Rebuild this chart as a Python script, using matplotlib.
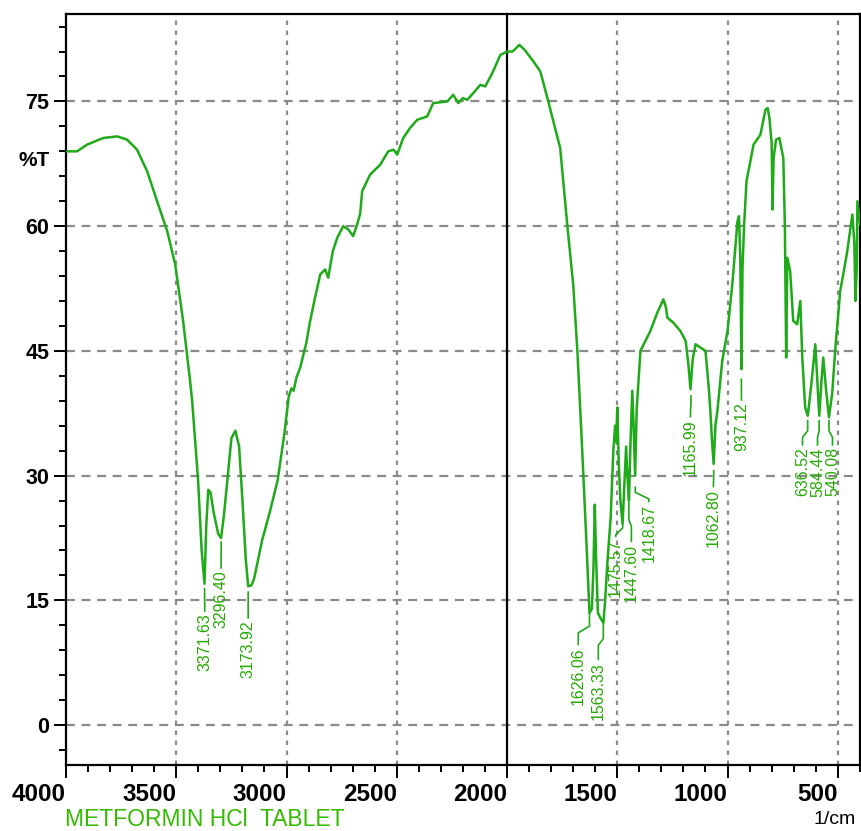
import matplotlib
matplotlib.use('Agg')
import matplotlib.pyplot as plt
from matplotlib.ticker import MultipleLocator

plt.rcParams['font.family'] = ['Liberation Sans', 'DejaVu Sans']

# spectrum (wavenumber in 1/cm, transmittance %T)
wn = [4000, 3950, 3905, 3832, 3768, 3723, 3678, 3632, 3587, 3541, 3505, 3469, 3440, 3428,
      3401, 3385, 3372, 3364, 3355, 3345, 3330, 3310, 3297, 3285, 3270, 3250, 3232, 3215,
      3200, 3185, 3174, 3160, 3147, 3111, 3074, 3040, 3010, 2990, 2978, 2968, 2955, 2938,
      2910, 2893, 2870, 2847, 2825, 2811, 2790, 2770, 2743, 2720, 2698, 2680, 2666, 2657,
      2621, 2575, 2539, 2515, 2498, 2471, 2440, 2407, 2362, 2335, 2271, 2244, 2221, 2200,
      2180, 2140, 2121, 2099, 2067, 2030, 2000, 1975, 1944, 1920, 1880, 1849, 1813, 1790,
      1759, 1727, 1700, 1681, 1659, 1640, 1626, 1615, 1608, 1602, 1596, 1588, 1575, 1563,
      1555, 1545, 1530, 1518, 1510, 1505, 1500, 1494, 1486, 1476, 1466, 1460, 1454, 1447,
      1440, 1432, 1426, 1419, 1412, 1395, 1350, 1320, 1291, 1280, 1273, 1246, 1214, 1190,
      1178, 1168, 1158, 1145, 1123, 1100, 1085, 1078, 1070, 1063, 1055, 1046, 1024, 1000,
      977, 955, 948, 942, 937, 932, 925, 914, 882, 851, 828, 818, 810, 800, 796, 791, 780,
      765, 747, 740, 734, 729, 716, 702, 684, 670, 661, 648, 636, 620, 602, 592, 584, 575,
      566, 552, 540, 525, 512, 489, 470, 457, 434, 425, 420, 414, 411, 398]
tr = [69.0, 69.0, 69.8, 70.6, 70.8, 70.4, 69.2, 66.6, 63.0, 59.4, 55.4, 48.6, 42.0, 39.0,
      29.4, 21.0, 17.0, 24.0, 28.3, 28.0, 25.5, 23.0, 22.5, 25.0, 29.0, 34.5, 35.4, 33.5,
      27.0, 20.0, 16.7, 16.8, 17.6, 22.2, 25.8, 29.5, 35.0, 39.5, 40.5, 40.2, 41.8, 43.0,
      46.0, 48.6, 51.5, 54.2, 54.8, 53.8, 57.0, 58.6, 60.0, 59.6, 58.8, 60.2, 61.5, 64.2,
      66.2, 67.4, 69.0, 69.2, 68.6, 70.6, 71.8, 72.8, 73.2, 74.8, 75.0, 75.8, 74.8, 75.4,
      75.2, 76.4, 77.0, 76.8, 78.4, 80.6, 81.0, 81.0, 81.8, 81.2, 79.8, 78.6, 75.0, 72.6,
      69.4, 60.2, 53.0, 45.0, 33.0, 22.0, 13.5, 14.0, 19.0, 26.5, 20.0, 13.5, 12.8, 12.3,
      15.0, 19.5, 25.0, 33.0, 36.0, 34.0, 38.2, 32.0, 27.0, 24.2, 30.0, 33.5, 30.0, 27.0,
      34.0, 40.2, 36.0, 30.0, 38.0, 45.0, 47.4, 49.5, 51.2, 50.3, 49.0, 48.4, 47.4, 46.2,
      43.5, 40.4, 44.0, 45.8, 45.4, 45.0, 40.5, 37.8, 34.0, 31.4, 36.0, 37.8, 43.8, 47.4,
      53.4, 60.6, 61.2, 56.0, 42.8, 55.0, 60.0, 65.4, 69.8, 71.0, 74.0, 74.2, 73.0, 70.0,
      62.0, 68.2, 70.4, 70.6, 68.2, 60.0, 44.2, 56.2, 54.6, 48.6, 48.2, 51.0, 44.2, 38.2,
      37.2, 41.0, 45.8, 41.0, 37.2, 41.0, 44.2, 40.0, 37.0, 40.0, 45.0, 52.2, 55.0, 57.0,
      61.4, 58.0, 51.0, 55.0, 63.0, 60.2]

# peak picks
peak_wn = [3371.63, 3296.40, 3173.92, 1626.06, 1563.33, 1475.57, 1447.60, 1418.67,
           1165.99, 1062.80, 937.12, 636.52, 584.44, 540.08]
peak_text = ['3371.63', '3296.40', '3173.92', '1626.06', '1563.33', '1475.57', '1447.60',
             '1418.67', '1165.99', '1062.80', '937.12', '636.52', '584.44', '540.08']
# where each leader starts (%T), where the label goes (x, top %T)
lead_y = [16.4, 22.0, 16.0, 13.6, 12.4, 24.2, 26.8, 28.6, 39.6, 30.6, 41.6, 36.6, 36.6, 36.6]
lab_x = [3371, 3297, 3174, 1677, 1586, 1507, 1436, 1357, 1168, 1064, 937, 660, 592, 524]
lab_top = [13.4, 18.6, 12.6, 9.4, 7.6, 22.4, 21.8, 26.6, 36.8, 28.4, 38.8, 33.4, 33.4, 33.4]

green = '#1faa1a'

fig = plt.figure(figsize=(8.62, 8.31), dpi=100)
ax = fig.add_axes([0.0766, 0.0794, 0.9214, 0.9036])

for y in range(0, 76, 15):
    ax.axhline(y, color='#8a8a8a', lw=1.6, dashes=(4, 3), zorder=1)
for x in [3500, 3000, 2500, 1500, 1000, 500]:
    ax.axvline(x, color='#8a8a8a', lw=1.6, dashes=(2, 2.5), zorder=1)
ax.axvline(2000, color='black', lw=1.6, zorder=2)

ax.plot(wn, tr, color=green, lw=1.8, zorder=3)

for w, t, ly, lx, lt in zip(peak_wn, peak_text, lead_y, lab_x, lab_top):
    mid = (ly + lt) / 2
    ax.plot([w, w, lx, lx], [ly, mid + 0.4, mid - 0.4, lt + 0.3], color=green, lw=1.2, zorder=3)
    ax.text(lx, lt, t, rotation=90, ha='center', va='top', fontsize=11.5,
            color='#22aa00', zorder=4)

ax.set_xlim(4000, 398)
ax.set_ylim(-4.8, 85.5)
ax.xaxis.set_major_locator(MultipleLocator(500))
ax.xaxis.set_minor_locator(MultipleLocator(100))
ax.yaxis.set_major_locator(MultipleLocator(15))
ax.yaxis.set_minor_locator(MultipleLocator(3))
ax.tick_params(axis='both', which='major', length=9, width=1.4, direction='out')
ax.tick_params(axis='both', which='minor', length=5, width=1.4, direction='out')
ax.tick_params(axis='y', pad=3, labelsize=15.5)
ax.tick_params(axis='x', pad=4, labelsize=17.5)
for lab in ax.get_xticklabels():
    lab.set_ha('right')
    lab.set_fontweight('bold')
for lab in ax.get_yticklabels():
    lab.set_fontweight('bold')
for s in ax.spines.values():
    s.set_linewidth(1.6)

fig.text(50 / 862, 1 - 160 / 831, '%T', ha='right', va='center', fontsize=15, fontweight='bold')
fig.text(65 / 862, 1 - 820 / 831, 'METFORMIN HCl  TABLET', ha='left', va='center',
         fontsize=16.5, color='#33bb00')
fig.text(856 / 862, 1 - 820 / 831, '1/cm', ha='right', va='center', fontsize=14)

fig.savefig('out.png', dpi=100)
